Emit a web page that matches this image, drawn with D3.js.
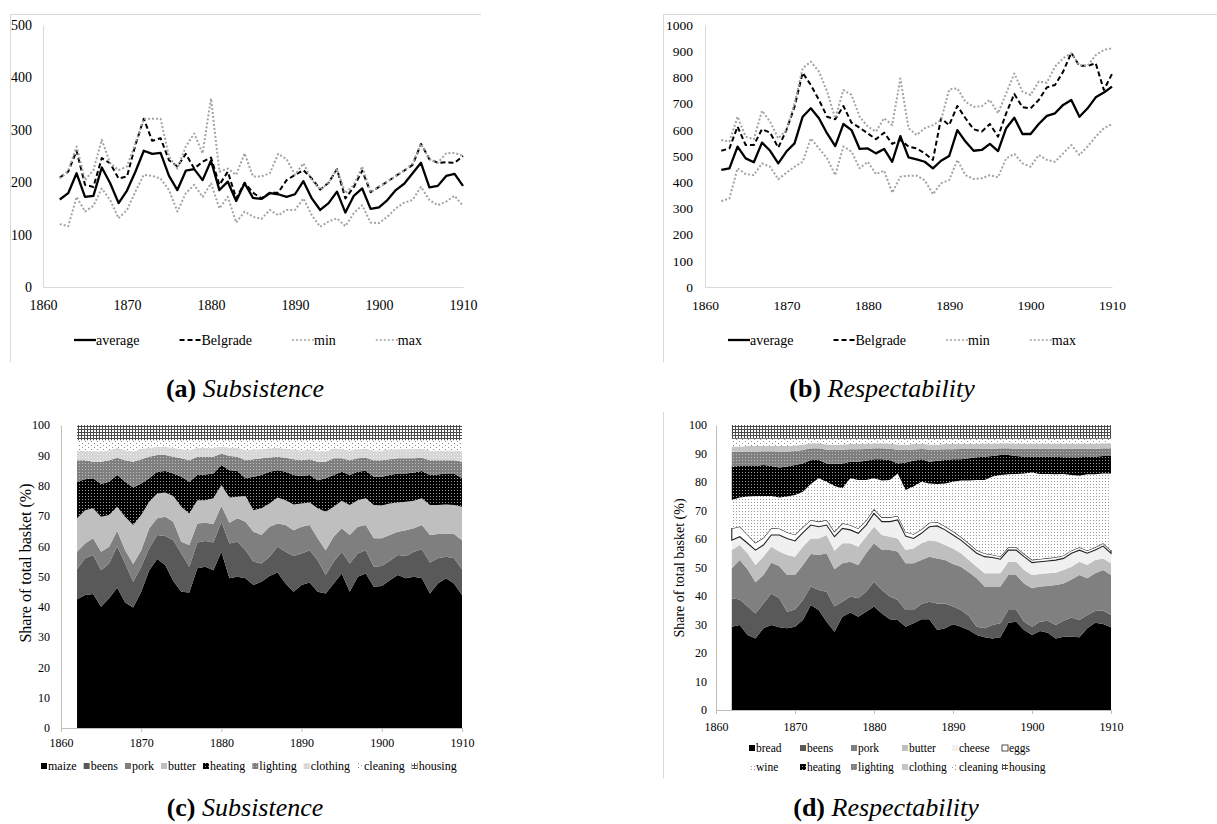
<!DOCTYPE html>
<html>
<head>
<meta charset="utf-8">
<script src="https://cdn.jsdelivr.net/npm/d3@7"></script>
<style>
  body { margin: 0; background: #fff; }
  svg text { font-family: "Liberation Serif", "Times New Roman", serif; fill: #000; }
</style>
</head>
<body>
<svg id="chart" width="1217" height="824"></svg>
<script>
var years = d3.range(1862, 1911);

// (a) Subsistence basket, cost per year
var subAverage  = [167,179,217,172,174,228,198,160,184,220, 260,254,256,212,185,222,225,204,241,185, 201,164,198,170,168,179,177,172,177,202, 169,147,160,182,142,174,188,149,152,166, 185,197,217,237,190,193,212,216,193];
var subBelgrade = [209,220,260,195,191,246,236,207,211,271, 321,279,284,242,230,254,226,239,247,195, 220,169,199,180,169,180,180,204,214,223, 207,186,199,225,169,191,222,181,191,201, 212,222,233,273,244,237,238,237,250];
var subMin      = [120,116,172,144,155,188,166,131,147,182, 214,212,207,185,144,179,195,172,198,150, 172,123,144,134,130,147,137,147,147,169, 137,115,125,131,116,141,156,123,122,134, 150,161,166,191,166,156,163,174,155];
var subMax      = [207,222,268,204,223,281,236,223,230,274, 321,321,321,249,226,268,293,255,360,220, 226,214,255,211,211,217,254,244,214,236, 204,186,199,225,179,195,230,181,191,201, 212,222,236,273,244,237,255,256,250];

// (b) Respectability basket, cost per year
var respAverage  = [447,453,536,491,476,551,520,472,517,548, 650,682,644,586,538,622,599,527,529,510, 527,478,576,495,487,478,453,482,500,599, 555,520,523,546,519,606,646,584,584,622, 653,663,695,714,650,682,724,742,765];
var respBelgrade = [520,529,612,542,542,602,589,532,599,688, 818,771,714,650,640,691,627,608,586,564, 589,546,561,536,529,510,485,644,618,691, 644,602,593,622,574,663,737,686,682,714, 762,771,822,894,844,844,854,752,813];
var respMin      = [328,338,453,431,427,472,459,411,436,459, 478,567,529,491,427,536,517,453,478,431, 444,360,421,425,425,408,354,396,408,485, 427,412,415,427,419,491,508,472,459,504, 485,478,510,542,504,536,574,606,622];
var respMax      = [561,555,650,574,564,673,631,567,599,701, 835,860,822,746,644,752,733,650,612,593, 644,618,796,606,580,606,618,637,754,758, 707,688,690,714,663,739,815,746,733,784, 780,841,873,892,847,844,885,905,911];

// (c) Subsistence basket, share of each item (%)
var subMaize    = [42.5,43.9,44.2,40.0,42.8,46.3,41.4,39.8,45.0,52.1, 55.8,53.8,48.5,45.0,44.7,52.7,53.2,52.1,58.2,49.4, 49.9,49.4,47.2,48.3,50.2,51.3,47.7,45.0,47.2,48.0, 45.0,44.4,47.7,51.0,45.0,49.9,51.0,46.6,46.9,48.8, 50.5,49.4,49.9,49.4,44.4,47.7,49.4,47.7,43.9];
var subBeens    = [9.9,12.1,12.9,12.1,11.5,13.7,12.9,8.5,8.2,7.2, 7.9,9.6,13.5,12.6,8.5,8.5,8.5,9.1,9.9,11.5, 11.6,9.3,7.7,6.0,6.3,8.5,10.5,11.8,10.4,10.7, 10.4,6.1,7.2,7.2,9.3,7.7,7.7,6.6,6.6,6.4, 6.6,7.4,8.3,9.6,10.2,8.3,7.1,8.3,8.5];
var subPork     = [5.8,4.9,5.5,6.1,5.5,5.1,4.4,5.8,5.5,6.6, 5.5,6.3,6.1,3.9,7.2,6.3,6.0,6.1,5.2,6.8, 7.7,9.4,9.9,9.4,9.9,7.7,8.8,8.5,8.8,8.3, 7.2,8.2,8.2,7.7,9.4,8.8,8.3,9.4,9.1,8.5, 7.7,8.5,7.7,8.0,9.1,8.0,7.7,8.0,9.6];
var subButter   = [11.0,11.0,9.9,11.5,10.5,7.9,11.0,12.9,11.6,8.8, 8.2,8.0,8.5,11.5,10.4,7.7,7.5,8.5,6.9,8.4, 7.1,8.5,7.1,8.8,7.7,8.6,8.2,8.5,7.7,7.4, 9.9,12.7,9.9,9.1,9.9,8.8,8.8,11.0,10.8,10.4, 9.6,9.4,9.1,8.8,9.9,9.6,9.6,9.6,11.0];
var subHeating  = [12.1,10.2,9.9,10.8,11.0,10.5,11.6,12.4,10.4,7.7, 7.2,7.1,7.4,9.9,10.5,8.3,8.5,8.2,6.6,9.0, 8.5,5.8,11.0,11.0,10.5,9.0,9.4,9.7,9.1,9.1, 9.3,11.0,10.5,9.6,9.9,9.4,9.1,9.3,9.5,9.4, 9.6,9.3,9.3,9.0,9.9,10.1,10.2,10.4,9.4];
var subLighting = [7.1,6.3,5.5,7.4,7.1,5.7,7.1,8.5,8.0,7.1, 5.5,5.3,5.5,6.1,7.1,6.0,5.8,5.5,3.8,4.7, 4.7,6.0,5.8,5.5,4.7,4.4,4.6,5.2,5.2,5.2, 6.1,5.5,5.5,4.4,4.9,4.4,4.3,5.5,5.5,5.2, 5.0,5.0,4.7,4.4,4.9,4.7,4.4,4.4,5.5];
var subClothing = [3.2,3.2,3.4,3.4,3.3,3.3,3.3,3.4,3.4,3.0, 2.6,2.6,3.0,3.0,3.3,3.0,3.0,3.0,2.2,2.7, 3.0,3.3,3.2,3.0,3.0,3.0,3.0,3.2,3.2,3.2, 3.4,3.4,3.2,3.0,3.2,3.0,3.0,3.2,3.2,3.2, 3.0,3.0,3.0,3.0,3.2,3.2,3.2,3.2,3.4];
var subCleaning = [3.4,3.4,3.7,3.7,3.3,2.5,3.3,3.7,2.9,2.5, 2.3,2.3,2.5,3.0,3.3,2.5,2.5,2.5,2.2,2.5, 2.5,3.3,3.1,3.0,2.7,2.5,2.8,3.1,3.4,3.1, 3.7,3.7,2.8,3.0,3.4,3.0,2.8,3.4,3.4,3.1, 3.0,3.0,3.0,2.8,3.4,3.4,3.4,3.4,3.7];
var subHousing  = [5,5,5,5,5,5,5,5,5,5, 5,5,5,5,5,5,5,5,5,5, 5,5,5,5,5,5,5,5,5,5, 5,5,5,5,5,5,5,5,5,5, 5,5,5,5,5,5,5,5,5];

// (d) Respectability basket, share of each item (%)
var respBread    = [29.2,29.8,26.3,25.1,28.7,29.8,29.0,28.7,29.2,31.6, 36.8,35.1,31.0,27.5,32.7,34.2,32.7,34.5,36.3,33.9, 31.8,31.6,29.2,30.4,31.8,31.8,28.1,28.7,30.1,29.2, 28.1,26.3,25.5,25.1,25.5,30.6,31.0,28.1,26.3,27.7, 27.1,25.1,25.7,25.7,25.5,28.7,30.6,30.2,29.0];
var respBeens    = [10.0,9.0,10.0,8.8,8.7,11.1,10.2,5.8,6.1,7.0, 6.5,7.0,10.5,8.8,5.3,5.6,6.5,7.0,8.7,8.2, 8.0,7.0,5.9,4.7,5.4,6.2,9.3,8.7,6.2,5.9, 4.9,2.9,3.2,4.7,4.9,4.5,4.1,2.9,2.9,3.3, 4.2,4.7,5.6,6.8,6.1,4.6,4.1,4.7,4.3];
var respPork     = [10.5,13.8,13.1,10.9,10.0,10.8,11.3,12.9,12.1,12.3, 11.4,12.3,13.5,13.1,13.5,12.2,11.7,13.5,13.5,14.0, 16.3,17.0,16.4,16.4,15.4,15.8,15.8,15.2,14.9,15.2, 15.3,17.0,14.6,13.5,12.9,12.3,12.3,13.4,13.5,12.3, 12.2,14.1,13.1,13.3,15.8,12.9,13.3,14.2,14.1];
var respButter   = [6.4,5.3,5.6,6.1,6.4,5.6,5.1,7.0,6.4,6.4, 5.5,5.8,6.4,6.5,7.0,6.5,6.4,5.8,5.8,5.3, 4.7,4.6,4.6,5.2,5.9,5.8,5.9,5.3,5.5,4.7, 4.3,4.1,4.7,4.7,4.7,4.6,4.6,4.7,4.7,4.4, 4.5,4.3,4.7,4.5,4.6,4.7,4.6,4.1,4.1];
var respCheese   = [3.5,2.9,3.5,5.2,4.1,4.1,5.8,5.8,5.5,4.9, 4.7,4.1,3.5,4.9,5.2,4.7,4.7,4.1,4.7,4.7, 5.3,6.5,4.9,3.5,3.5,4.7,5.5,5.3,4.7,4.6, 4.7,4.7,5.8,5.5,4.9,4.1,4.1,4.7,4.3,4.3, 4.3,4.4,4.1,4.7,4.1,4.1,3.5,4.3,3.5];
var respEggs     = [4.1,3.6,3.0,2.6,2.5,2.4,2.3,2.2,2.2,2.0, 1.8,1.8,1.8,1.8,1.8,1.7,1.7,1.6,1.5,1.5, 1.5,1.5,1.5,1.5,1.4,1.4,1.4,1.3,1.3,1.2, 1.2,1.1,1.1,1.0,1.0,1.0,1.0,1.0,1.0,1.0, 1.0,1.0,1.0,1.0,1.0,1.0,1.0,1.0,1.0];
var respWine     = [10.0,10.2,13.4,16.4,14.7,11.3,10.9,12.5,13.9,12.4, 12.6,15.2,13.4,16.0,12.3,16.4,17.0,14.2,10.8,12.9, 13.1,14.8,14.7,16.7,16.7,13.8,13.3,15.0,17.4,19.7, 22.0,24.6,25.8,27.4,28.6,25.6,25.7,28.2,30.6,29.8, 29.5,29.1,28.6,26.5,25.1,26.7,25.6,24.5,27.0];
var respHeating  = [11.7,11.0,10.7,10.5,10.9,10.5,10.5,10.5,10.6,9.9, 8.4,6.4,6.4,7.7,8.7,5.8,6.4,6.8,6.7,7.5, 7.0,3.5,9.6,9.1,7.9,7.6,8.2,8.2,7.9,7.5, 7.8,8.0,8.2,7.2,7.0,6.8,6.3,5.9,5.6,6.1, 6.1,6.2,5.9,6.2,6.5,6.2,6.2,6.1,6.1];
var respLighting = [5.2,5.0,5.1,5.1,4.8,5.2,5.6,5.3,4.9,4.7, 4.1,4.1,4.8,4.9,4.8,4.4,4.4,4.1,3.8,3.8, 4.0,4.8,4.4,3.9,3.6,4.3,3.9,3.8,3.5,3.6, 3.3,2.9,2.8,2.6,2.3,2.3,2.6,2.8,2.8,2.8, 2.8,2.8,3.0,3.0,3.0,2.8,2.8,2.7,2.7];
var respClothing = [1.9,1.9,1.9,1.9,1.9,1.9,1.9,1.9,1.9,1.9, 1.8,1.8,1.9,1.9,1.9,1.8,1.8,1.8,1.8,1.8, 1.8,1.9,1.9,1.9,1.8,1.8,1.8,1.8,1.8,1.8, 1.8,1.8,1.8,1.8,1.8,1.8,1.8,1.8,1.8,1.8, 1.8,1.8,1.8,1.8,1.8,1.8,1.8,1.8,1.8];
var respCleaning = [2.7,2.7,2.6,2.6,2.5,2.5,2.6,2.6,2.4,2.1, 1.6,1.6,2.0,2.1,2.0,1.9,1.9,1.8,1.6,1.6, 1.7,2.0,2.1,1.9,1.8,2.0,2.0,1.9,1.9,1.8, 1.8,1.8,1.7,1.7,1.6,1.6,1.7,1.7,1.7,1.7, 1.7,1.7,1.7,1.7,1.7,1.7,1.7,1.6,1.6];
var respHousing  = [4.8,4.8,4.8,4.8,4.8,4.8,4.8,4.8,4.8,4.8, 4.8,4.8,4.8,4.8,4.8,4.8,4.8,4.8,4.8,4.8, 4.8,4.8,4.8,4.8,4.8,4.8,4.8,4.8,4.8,4.8, 4.8,4.8,4.8,4.8,4.8,4.8,4.8,4.8,4.8,4.8, 4.8,4.8,4.8,4.8,4.8,4.8,4.8,4.8,4.8];

var decadeTicks = [1860, 1870, 1880, 1890, 1900, 1910];
var serif = '"Liberation Serif", "Times New Roman", serif';

var svg = d3.select("#chart").style("font-family", serif);
svg.append("rect").attr("width", 1217).attr("height", 824).attr("fill", "#fff");
var defs = svg.append("defs");

function addPattern(id, w, h, bg, build) {
  var p = defs.append("pattern")
    .attr("id", id)
    .attr("patternUnits", "userSpaceOnUse")
    .attr("width", w).attr("height", h);
  p.append("rect").attr("width", w).attr("height", h).attr("fill", bg);
  build(p);
}
function dot(p, x, y, c) {
  p.append("rect").attr("x", x).attr("y", y).attr("width", 1).attr("height", 1).attr("fill", c);
}
addPattern("pHousing", 3, 3, "#fff", function(p) {
  p.append("path").attr("d", "M0,0.5H3M0.5,0V3").attr("stroke", "#4a4a4a").attr("stroke-width", 1);
});
addPattern("pHeating", 3, 3, "#000", function(p) { dot(p, 1, 1, "#9c9c9c"); });
addPattern("pLighting", 3, 3, "#7f7f7f", function(p) { dot(p, 1, 1, "#bdbdbd"); });
addPattern("pClothing", 3, 3, "#d6d6d6", function(p) { dot(p, 1, 1, "#efefef"); });
addPattern("pCleaning", 6, 4, "#fff", function(p) { dot(p, 1, 1, "#8a8a8a"); dot(p, 4, 3, "#8a8a8a"); });
addPattern("pWine", 3, 3, "#fff", function(p) { dot(p, 1, 1, "#9a9a9a"); });

// panel frames (partly cropped in the original figure)
var frameColor = "#d9d9d9";
svg.append("path").attr("d", "M10.5,362V14.5H481").attr("fill", "none").attr("stroke", frameColor);
svg.append("path").attr("d", "M663.5,362V14.5H1217").attr("fill", "none").attr("stroke", frameColor);
svg.append("path").attr("d", "M663.5,412V778").attr("fill", "none").attr("stroke", frameColor);

function styleAxis(a, fs, color) {
  a.attr("font-family", serif).attr("font-size", fs);
  a.select(".domain").attr("stroke", color);
  a.selectAll(".tick line").attr("stroke", color);
  a.selectAll("text").attr("fill", "#000");
}

function lineChart(opt) {
  var g = svg.append("g");
  var x = d3.scaleLinear().domain([1860, 1910]).range([opt.left, opt.right]);
  var y = d3.scaleLinear().domain([0, opt.yMax]).range([287, 25]);

  var yAx = g.append("g").attr("transform", "translate(" + opt.left + ",0)")
    .call(d3.axisLeft(y).tickValues(d3.range(0, opt.yMax + 1, 100)).tickFormat(d3.format("d"))
      .tickSize(0).tickPadding(opt.yPad));
  var xAx = g.append("g").attr("transform", "translate(0,287)")
    .call(d3.axisBottom(x).tickValues(decadeTicks).tickFormat(d3.format("d")).tickSize(0).tickPadding(13));
  styleAxis(yAx, opt.fs, "#d9d9d9");
  styleAxis(xAx, opt.fs, "#d9d9d9");

  var line = d3.line().x(function(d, i) { return x(years[i]); }).y(function(d) { return y(d); });
  opt.series.forEach(function(s) {
    g.append("path").datum(s.values)
      .attr("d", line)
      .attr("fill", "none")
      .attr("stroke", s.color)
      .attr("stroke-width", s.width)
      .attr("stroke-dasharray", s.dash)
      .attr("stroke-linejoin", "round");
  });

  var lx = opt.legendX;
  opt.series.forEach(function(s) {
    g.append("line")
      .attr("x1", lx).attr("x2", lx + 22).attr("y1", 340).attr("y2", 340)
      .attr("stroke", s.color).attr("stroke-width", s.dash === "2,2" ? 1.5 : s.width)
      .attr("stroke-dasharray", s.dash);
    var t = g.append("text").attr("x", lx + 22).attr("y", 345).attr("font-size", 14).text(s.name);
    lx += 22 + t.node().getComputedTextLength() + 40;
  });
}

lineChart({
  left: 43, right: 463, yMax: 500, yPad: 11, fs: 14, legendX: 74,
  series: [
    { name: "average",  values: subAverage,  color: "#000", width: 2.3, dash: null },
    { name: "Belgrade", values: subBelgrade, color: "#000", width: 2,   dash: "5,3" },
    { name: "min",      values: subMin,      color: "#a3a3a3", width: 2, dash: "2,2" },
    { name: "max",      values: subMax,      color: "#a3a3a3", width: 2, dash: "2,2" }
  ]
});

lineChart({
  left: 705, right: 1112, yMax: 1000, yPad: 12, fs: 13.5, legendX: 728,
  series: [
    { name: "average",  values: respAverage,  color: "#000", width: 2.3, dash: null },
    { name: "Belgrade", values: respBelgrade, color: "#000", width: 2,   dash: "5,3" },
    { name: "min",      values: respMin,      color: "#a3a3a3", width: 2, dash: "2,2" },
    { name: "max",      values: respMax,      color: "#a3a3a3", width: 2, dash: "2,2" }
  ]
});

function stackChart(opt) {
  var g = svg.append("g");
  var x = d3.scaleLinear().domain([1860, 1910]).range([opt.left, opt.right]);
  var y = d3.scaleLinear().domain([0, 100]).range([opt.bottom, opt.top]);

  var rows = years.map(function(yr, i) {
    var r = { year: yr };
    opt.series.forEach(function(s) { r[s.key] = s.values[i]; });
    return r;
  });
  var layers = d3.stack().keys(opt.series.map(function(s) { return s.key; }))(rows);
  var area = d3.area()
    .x(function(d) { return x(d.data.year); })
    .y0(function(d) { return y(d[0]); })
    .y1(function(d) { return y(d[1]); });

  g.selectAll("path.layer").data(layers).join("path")
    .attr("class", "layer")
    .attr("d", area)
    .attr("fill", function(d, i) { return opt.series[i].fill; })
    .attr("stroke", function(d, i) { return opt.series[i].stroke || "none"; })
    .attr("stroke-width", 1.1);

  var yAx = g.append("g").attr("transform", "translate(" + opt.left + ",0)")
    .call(d3.axisLeft(y).tickValues(d3.range(0, 101, 10)).tickSize(0).tickPadding(opt.yPad));
  var xAx = g.append("g").attr("transform", "translate(0," + opt.bottom + ")")
    .call(d3.axisBottom(x).tickValues(decadeTicks).tickFormat(d3.format("d")).tickSize(4).tickSizeOuter(0).tickPadding(opt.xPad));
  styleAxis(yAx, opt.fs, "#bfbfbf");
  styleAxis(xAx, opt.fs, "#bfbfbf");

  g.append("text")
    .attr("transform", "translate(" + opt.titleX + "," + opt.titleY + ") rotate(-90)")
    .attr("text-anchor", "middle")
    .attr("dominant-baseline", "middle")
    .attr("font-size", opt.titleFs)
    .text("Share of total basket (%)");

  return g;
}

function swatch(g, x, yc, s) {
  g.append("rect").attr("x", x).attr("y", yc - 3).attr("width", 6).attr("height", 6)
    .attr("fill", s.fill)
    .attr("stroke", s.stroke || "none").attr("stroke-width", 0.8);
}

var subSeries = [
  { key: "maize",    values: subMaize,    fill: "#000" },
  { key: "beens",    values: subBeens,    fill: "#595959" },
  { key: "pork",     values: subPork,     fill: "#7f7f7f" },
  { key: "butter",   values: subButter,   fill: "#bfbfbf" },
  { key: "heating",  values: subHeating,  fill: "url(#pHeating)" },
  { key: "lighting", values: subLighting, fill: "url(#pLighting)" },
  { key: "clothing", values: subClothing, fill: "url(#pClothing)" },
  { key: "cleaning", values: subCleaning, fill: "url(#pCleaning)" },
  { key: "housing",  values: subHousing,  fill: "url(#pHousing)" }
];
var gc = stackChart({
  left: 61, right: 462, top: 425, bottom: 728, yPad: 11, xPad: 6, fs: 12,
  titleX: 27, titleY: 563, titleFs: 16, series: subSeries
});
var lx = 41;
subSeries.forEach(function(s) {
  swatch(gc, lx, 766, s);
  var t = gc.append("text").attr("x", lx + 7).attr("y", 770).attr("font-size", 12).text(s.key);
  lx += 7 + t.node().getComputedTextLength() + 7;
});

var respSeries = [
  { key: "bread",    values: respBread,    fill: "#000" },
  { key: "beens",    values: respBeens,    fill: "#595959" },
  { key: "pork",     values: respPork,     fill: "#808080" },
  { key: "butter",   values: respButter,   fill: "#bfbfbf" },
  { key: "cheese",   values: respCheese,   fill: "#f0f0f0" },
  { key: "eggs",     values: respEggs,     fill: "#fff", stroke: "#222" },
  { key: "wine",     values: respWine,     fill: "url(#pWine)" },
  { key: "heating",  values: respHeating,  fill: "url(#pHeating)" },
  { key: "lighting", values: respLighting, fill: "url(#pLighting)" },
  { key: "clothing", values: respClothing, fill: "#c4c4c4" },
  { key: "cleaning", values: respCleaning, fill: "url(#pCleaning)" },
  { key: "housing",  values: respHousing,  fill: "url(#pHousing)" }
];
var gd = stackChart({
  left: 716, right: 1111, top: 425, bottom: 710, yPad: 9, xPad: 8, fs: 12,
  titleX: 681, titleY: 568, titleFs: 14, series: respSeries
});
var legendCols = [749, 800, 851, 902, 952, 1002];
respSeries.forEach(function(s, i) {
  var sx = legendCols[i % 6], yc = 748 + Math.floor(i / 6) * 19;
  swatch(gd, sx, yc, s);
  gd.append("text").attr("x", sx + 7).attr("y", yc + 4).attr("font-size", 11.5).text(s.key);
});

function caption(cx, y, label, title) {
  var t = svg.append("text").attr("x", cx).attr("y", y).attr("text-anchor", "middle").attr("font-size", 26);
  t.append("tspan").attr("font-weight", "bold").text(label);
  t.append("tspan").attr("font-style", "italic").text("\u00a0" + title);
}
caption(245, 397, "(a)", "Subsistence");
caption(882, 397, "(b)", "Respectability");
caption(245, 816, "(c)", "Subsistence");
caption(886, 816, "(d)", "Respectability");
</script>
</body>
</html>
